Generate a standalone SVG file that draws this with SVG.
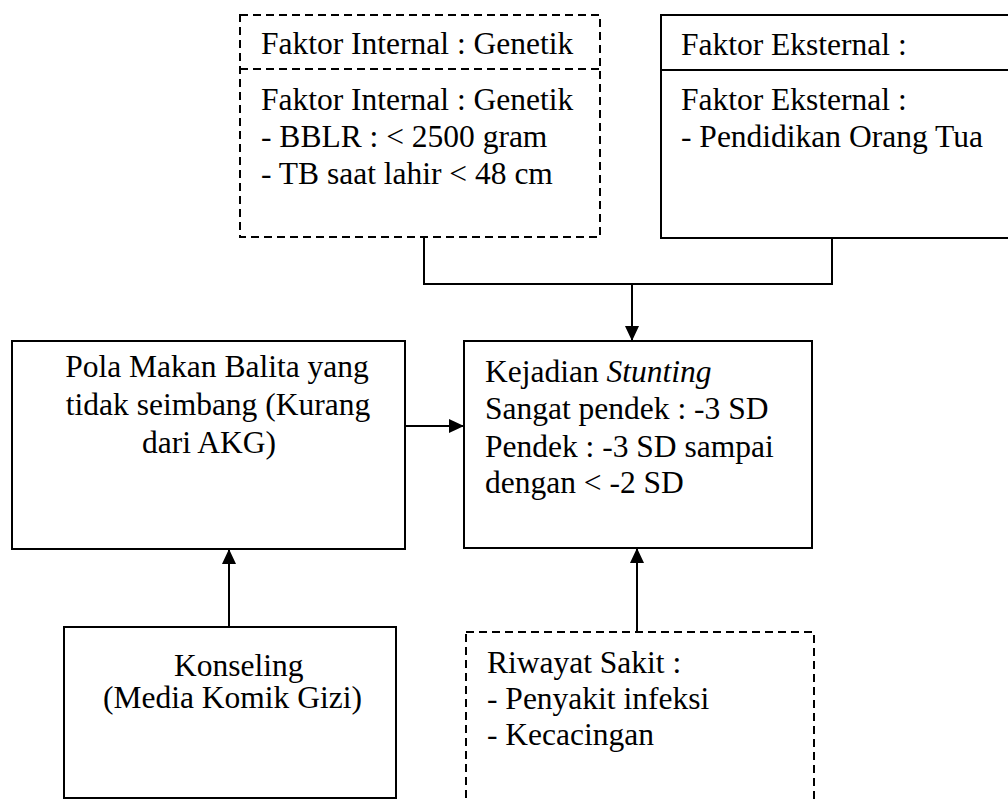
<svg xmlns="http://www.w3.org/2000/svg" width="1008" height="800" viewBox="0 0 1008 800">
<defs>
<style>
.box{fill:#fff;stroke:#000;stroke-width:2}
.dash{fill:#fff;stroke:#000;stroke-width:2;stroke-dasharray:8 5}
.ln{fill:none;stroke:#000;stroke-width:2}
.dl{fill:none;stroke:#000;stroke-width:2;stroke-dasharray:8 5}
text{font-family:'Liberation Serif','DejaVu Serif',serif;font-size:31.5px;fill:#000}
.c{text-anchor:middle}
</style>
<marker id="ah" markerWidth="15" markerHeight="14" refX="15" refY="7" orient="auto" markerUnits="userSpaceOnUse">
<path d="M0,0 L15,7 L0,14 Z" fill="#000"/>
</marker>
</defs>
<rect width="1008" height="800" fill="#fff"/>
<g id="internal" font-family="Liberation Serif, serif">
<rect class="dash" x="240" y="15" width="360" height="222"/>
<line class="dl" x1="240" y1="69" x2="600" y2="69"/>
<text x="261" y="54">Faktor Internal : Genetik</text>
<text x="261" y="110">Faktor Internal : Genetik</text>
<text x="261" y="147">- BBLR : &lt; 2500 gram</text>
<text x="261" y="184">- TB saat lahir &lt; 48 cm</text>
</g>
<g id="eksternal">
<rect class="box" x="661" y="15" width="360" height="223"/>
<line class="ln" x1="661" y1="70" x2="1021" y2="70"/>
<text x="681" y="55">Faktor Eksternal :</text>
<text x="681" y="110">Faktor Eksternal :</text>
<text x="681" y="147">- Pendidikan Orang Tua</text>
</g>
<g id="pola">
<rect class="box" x="12" y="341" width="393" height="208"/>
<text class="c" x="217" y="377">Pola Makan Balita yang</text>
<text class="c" x="218" y="415">tidak seimbang (Kurang</text>
<text class="c" x="209" y="453">dari AKG)</text>
</g>
<g id="stunting">
<rect class="box" x="464" y="341" width="348" height="207"/>
<text x="485" y="382">Kejadian <tspan font-style="italic">Stunting</tspan></text>
<text x="485" y="419">Sangat pendek : -3 SD</text>
<text x="485" y="457">Pendek : -3 SD sampai</text>
<text x="485" y="493">dengan &lt; -2 SD</text>
</g>
<g id="konseling">
<rect class="box" x="64" y="627" width="332" height="171"/>
<text x="174" y="676">Konseling</text>
<text x="103" y="708">(Media Komik Gizi)</text>
</g>
<g id="riwayat">
<rect class="dash" x="466" y="632" width="348" height="190"/>
<text x="487" y="673">Riwayat Sakit :</text>
<text x="487" y="709">- Penyakit infeksi</text>
<text x="487" y="745">- Kecacingan</text>
</g>
<g id="connectors">
<polyline class="ln" points="424,238 424,284 832,284 832,238"/>
<line class="ln" x1="632" y1="284" x2="632" y2="341" marker-end="url(#ah)"/>
<line class="ln" x1="405" y1="426" x2="464" y2="426" marker-end="url(#ah)"/>
<line class="ln" x1="229" y1="627" x2="229" y2="549" marker-end="url(#ah)"/>
<line class="ln" x1="637" y1="632" x2="637" y2="548" marker-end="url(#ah)"/>
</g>
</svg>
